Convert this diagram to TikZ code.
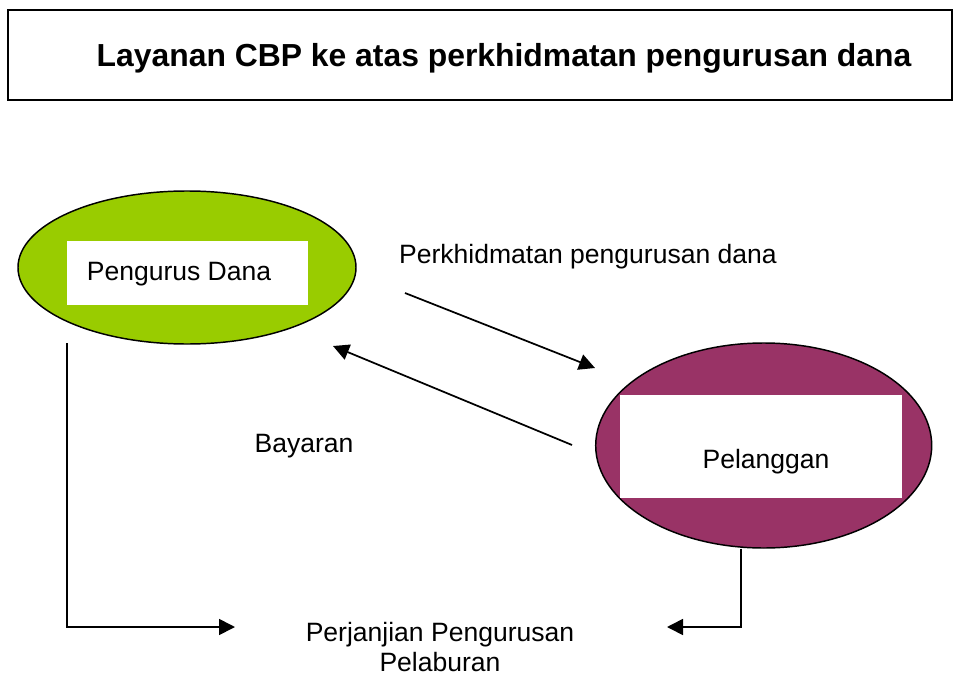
\documentclass[tikz,border=0pt]{standalone}
\usepackage{fontspec}
\setmainfont{Liberation Sans}
\usetikzlibrary{shapes.geometric,arrows.meta}
\definecolor{dgreen}{RGB}{153,204,0}
\definecolor{plum}{RGB}{153,51,102}
\tikzset{
  party/.style={ellipse,draw=black,line width=1.1pt,inner sep=0pt},
  namebox/.style={fill=white,inner sep=0pt},
  lbl/.style={font=\fontsize{19.9}{23}\selectfont,inner sep=0pt},
  flow/.style={line width=1.3pt,-{Triangle[length=12pt,width=12pt]}},
}

\begin{document}
\begin{tikzpicture}[x=0.75pt,y=-0.75pt]
\useasboundingbox (0,0) rectangle (955,677);

% title
\draw[line width=1.1pt] (8,10) rectangle (952,100);
\node[inner sep=0pt,font=\fontsize{23.9}{28}\selectfont\bfseries] (title) at (504,58)
  {Layanan CBP ke atas perkhidmatan pengurusan dana};

% fund manager
\node[party,fill=dgreen,minimum width=253.5pt,minimum height=114.75pt] (pdell) at (187,267.5) {};
\node[namebox,minimum width=180.75pt,minimum height=48pt] (pdbox) at (187.5,273) {};
\node[lbl] (pd) at (179,274) {Pengurus Dana};

% customer
\node[party,fill=plum,minimum width=252pt,minimum height=153.75pt] (plell) at (763.7,445.5) {};
\node[namebox,minimum width=211.5pt,minimum height=77.25pt] (plbox) at (761,446.5) {};
\node[lbl] (pl) at (766,462) {Pelanggan};

% labels
\node[lbl] (svc) at (588,257) {Perkhidmatan pengurusan dana};
\node[lbl] (pay) at (304,446) {Bayaran};
\node[lbl,align=center,font=\fontsize{19.9}{22.5}\selectfont] (ppl) at (440,647)
  {Perjanjian Pengurusan\\Pelaburan};

% flows
\coordinate (s1) at (405,293);
\coordinate (e1) at (595,368);
\coordinate (s2) at (572,445);
\coordinate (e2) at (333,346);
\draw[flow] (s1) -- (e1);
\draw[flow] (s2) -- (e2);

\coordinate (l0) at (67,343);
\coordinate (l1) at (235,627);
\coordinate (r0) at (741,548);
\coordinate (r1) at (667,627);
\draw[flow] (l0) |- (l1);
\draw[flow] (plell.south -| r0) |- (r1);
\end{tikzpicture}
\end{document}
